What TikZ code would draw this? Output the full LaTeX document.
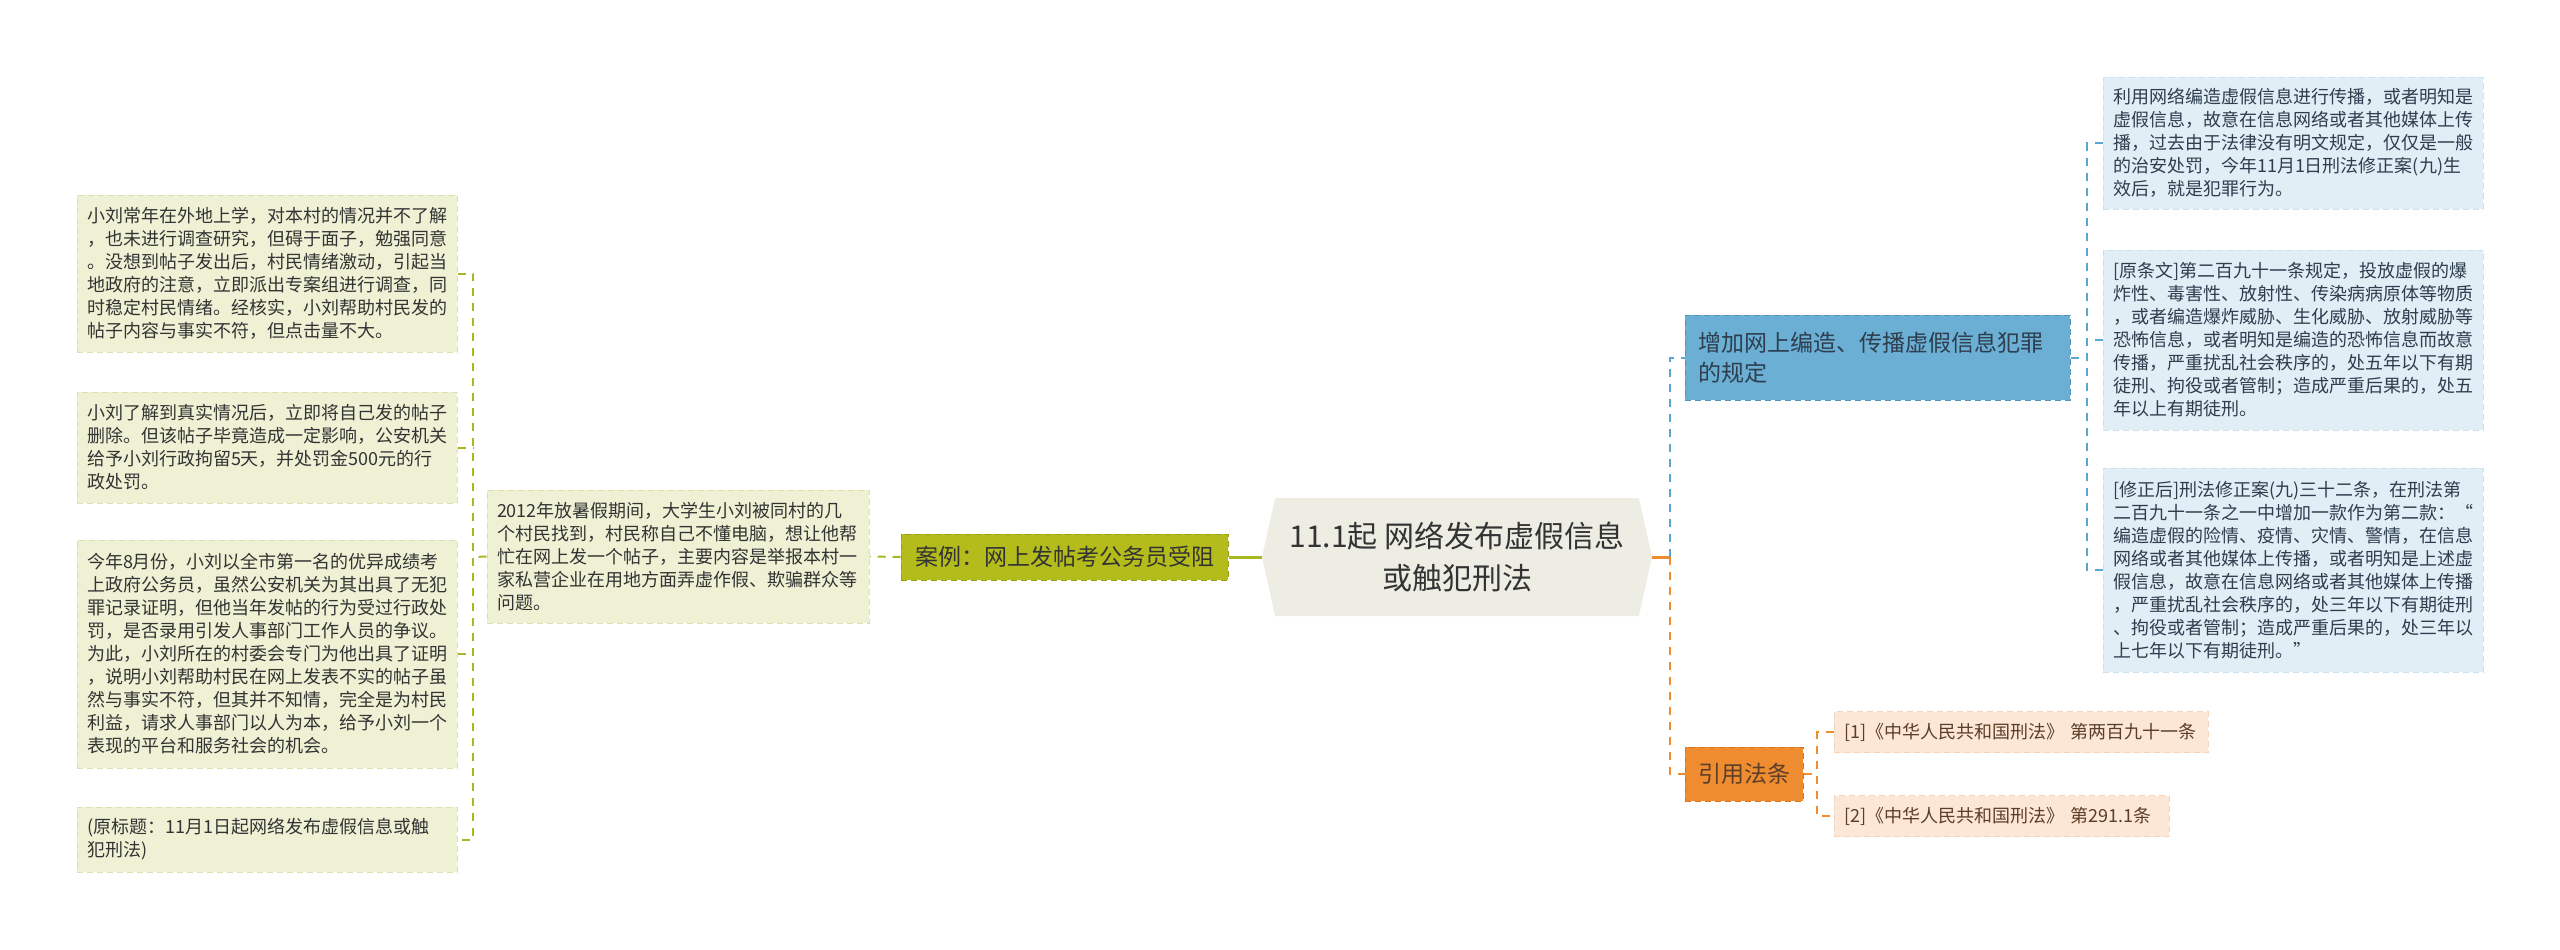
\documentclass[tikz,border=0pt]{standalone}
\usepackage{fontspec}
\setmainfont{Noto Sans CJK SC}
\usetikzlibrary{shapes.symbols}

\definecolor{leafG}{HTML}{EFF1D5}
\definecolor{leafGd}{HTML}{DCE0AE}
\definecolor{lineG}{HTML}{A8B81F}
\definecolor{caseG}{HTML}{B4BC1C}
\definecolor{caseGd}{HTML}{96A012}
\definecolor{centF}{HTML}{EDEDE4}
\definecolor{blueF}{HTML}{6BAFD4}
\definecolor{blueFd}{HTML}{4F94BB}
\definecolor{leafB}{HTML}{E1EEF6}
\definecolor{leafBd}{HTML}{CCE0EE}
\definecolor{lineB}{HTML}{5BA5D1}
\definecolor{orangeF}{HTML}{F08C30}
\definecolor{orangeFd}{HTML}{D97520}
\definecolor{refF}{HTML}{FCE7D6}
\definecolor{refFd}{HTML}{F5D3BA}
\definecolor{txtG}{HTML}{333333}
\definecolor{txtB}{HTML}{2E3E4E}
\definecolor{txtO}{HTML}{5A3E28}

\begin{document}
\begin{tikzpicture}[x=0.5pt,y=-0.5pt,
    gline/.style={draw=lineG,line width=1pt,dash pattern=on 4pt off 3.5pt},
    bline/.style={draw=lineB,line width=1pt,dash pattern=on 4pt off 3.5pt},
    oline/.style={draw=orangeF,line width=1pt,dash pattern=on 4pt off 3.5pt},
    box/.style={align=left,inner ysep=0pt,line width=0.5pt,dash pattern=on 3pt off 2pt},
    leafL/.style={box,fill=leafG,draw=leafGd,text=txtG,text width=180pt,inner xsep=5pt,
      font=\fontsize{9pt}{11.5pt}\selectfont},
    leafR/.style={box,fill=leafB,draw=leafBd,text=txtB,text width=180pt,inner xsep=5pt,
      font=\fontsize{9pt}{11.5pt}\selectfont},
    refbox/.style={box,fill=refF,draw=refFd,text=txtO,inner xsep=5pt,minimum height=20.5pt,
      font=\fontsize{9pt}{11.5pt}\selectfont},
    mainbox/.style={box,inner xsep=6.5pt,font=\fontsize{11.5pt}{15pt}\selectfont}]
  \useasboundingbox (0,0) rectangle (2560,949);

  \node[shape=signal,signal to=east and west,signal pointer angle=155,fill=centF,
    minimum width=195pt,minimum height=59pt,inner sep=0pt,align=center,text=txtG,
    font=\fontsize{15pt}{21pt}\selectfont] (C) at (1457,557)
    {11.1起 网络发布虚假信息\\或触犯刑法};

  \node[mainbox,fill=caseG,draw=caseGd,text=txtG,minimum width=163.5pt,minimum height=23pt]
    (K) at (1064.5,557) {案例：网上发帖考公务员受阻};
  \node[leafL,text width=181pt,minimum height=66.5pt] (S) at (678,556.5)
    {2012年放暑假期间，大学生小刘被同村的几\\个村民找到，村民称自己不懂电脑，想让他帮\\忙在网上发一个帖子，主要内容是举报本村一\\家私营企业在用地方面弄虚作假、欺骗群众等\\问题。};

  \node[leafL,minimum height=78.5pt] (L1) at (267,273.5)
    {小刘常年在外地上学，对本村的情况并不了解\\，也未进行调查研究，但碍于面子，勉强同意\\。没想到帖子发出后，村民情绪激动，引起当\\地政府的注意，立即派出专案组进行调查，同\\时稳定村民情绪。经核实，小刘帮助村民发的\\帖子内容与事实不符，但点击量不大。};
  \node[leafL,minimum height=55.5pt] (L2) at (267,447.5)
    {小刘了解到真实情况后，立即将自己发的帖子\\删除。但该帖子毕竟造成一定影响，公安机关\\给予小刘行政拘留5天，并处罚金500元的行\\政处罚。};
  \node[leafL,minimum height=114pt] (L3) at (267,654)
    {今年8月份，小刘以全市第一名的优异成绩考\\上政府公务员，虽然公安机关为其出具了无犯\\罪记录证明，但他当年发帖的行为受过行政处\\罚，是否录用引发人事部门工作人员的争议。\\为此，小刘所在的村委会专门为他出具了证明\\，说明小刘帮助村民在网上发表不实的帖子虽\\然与事实不符，但其并不知情，完全是为村民\\利益，请求人事部门以人为本，给予小刘一个\\表现的平台和服务社会的机会。};
  \node[leafL,minimum height=32.5pt] (L4) at (267,839.5)
    {(原标题：11月1日起网络发布虚假信息或触\\犯刑法)};

  \node[mainbox,fill=blueF,draw=blueFd,text=txtB,text width=179.5pt,minimum height=42.5pt]
    (B) at (1877.5,357.5) {增加网上编造、传播虚假信息犯罪\\的规定};
  \node[leafR,minimum height=66pt] (R1) at (2293,143)
    {利用网络编造虚假信息进行传播，或者明知是\\虚假信息，故意在信息网络或者其他媒体上传\\播，过去由于法律没有明文规定，仅仅是一般\\的治安处罚，今年11月1日刑法修正案(九)生\\效后，就是犯罪行为。};
  \node[leafR,minimum height=90pt] (R2) at (2293,340)
    {[原条文]第二百九十一条规定，投放虚假的爆\\炸性、毒害性、放射性、传染病病原体等物质\\，或者编造爆炸威胁、生化威胁、放射威胁等\\恐怖信息，或者明知是编造的恐怖信息而故意\\传播，严重扰乱社会秩序的，处五年以下有期\\徒刑、拘役或者管制；造成严重后果的，处五\\年以上有期徒刑。};
  \node[leafR,minimum height=102pt] (R3) at (2293,570)
    {[修正后]刑法修正案(九)三十二条，在刑法第\\二百九十一条之一中增加一款作为第二款：“\\编造虚假的险情、疫情、灾情、警情，在信息\\网络或者其他媒体上传播，或者明知是上述虚\\假信息，故意在信息网络或者其他媒体上传播\\，严重扰乱社会秩序的，处三年以下有期徒刑\\、拘役或者管制；造成严重后果的，处三年以\\上七年以下有期徒刑。”};

  \node[mainbox,fill=orangeF,draw=orangeFd,text=txtO,align=center,minimum width=59pt,
    minimum height=27pt] (Y) at (1744,774) {引用法条};
  \node[refbox,text width=177pt] (F1) at (2021,732) {[1]《中华人民共和国刑法》 第两百九十一条};
  \node[refbox,text width=157.5pt] (F2) at (2001.5,816) {[2]《中华人民共和国刑法》 第291.1条};

  \coordinate (jL) at (473,557);
  \coordinate (jC) at (1670,557);
  \coordinate (jB) at (2087,357.5);
  \coordinate (jY) at (1817,774);

  \draw[draw=lineG,line width=1.5pt] (C.west) -- (K.east);
  \draw[gline] (K.west) -- (S.east);
  \draw[gline] (S.west) -- (jL);
  \draw[gline] (L1.east) -- (L1.east -| jL) -- (L4.east -| jL) -- (L4.east);
  \draw[gline] (L2.east) -- (L2.east -| jL);
  \draw[gline] (L3.east) -- (L3.east -| jL);

  \draw[draw=orangeF,line width=1.5pt] (C.east) -- (jC);
  \draw[bline] (jC) |- (B.west);
  \draw[oline] (jC) |- (Y.west);
  \draw[bline] (B.east) -- (jB);
  \draw[bline] (R1.west) -- (R1.west -| jB) -- (R3.west -| jB) -- (R3.west);
  \draw[bline] (R2.west) -- (R2.west -| jB);
  \draw[oline] (Y.east) -- (jY);
  \draw[oline] (F1.west) -- (F1.west -| jY) -- (F2.west -| jY) -- (F2.west);
\end{tikzpicture}
\end{document}
